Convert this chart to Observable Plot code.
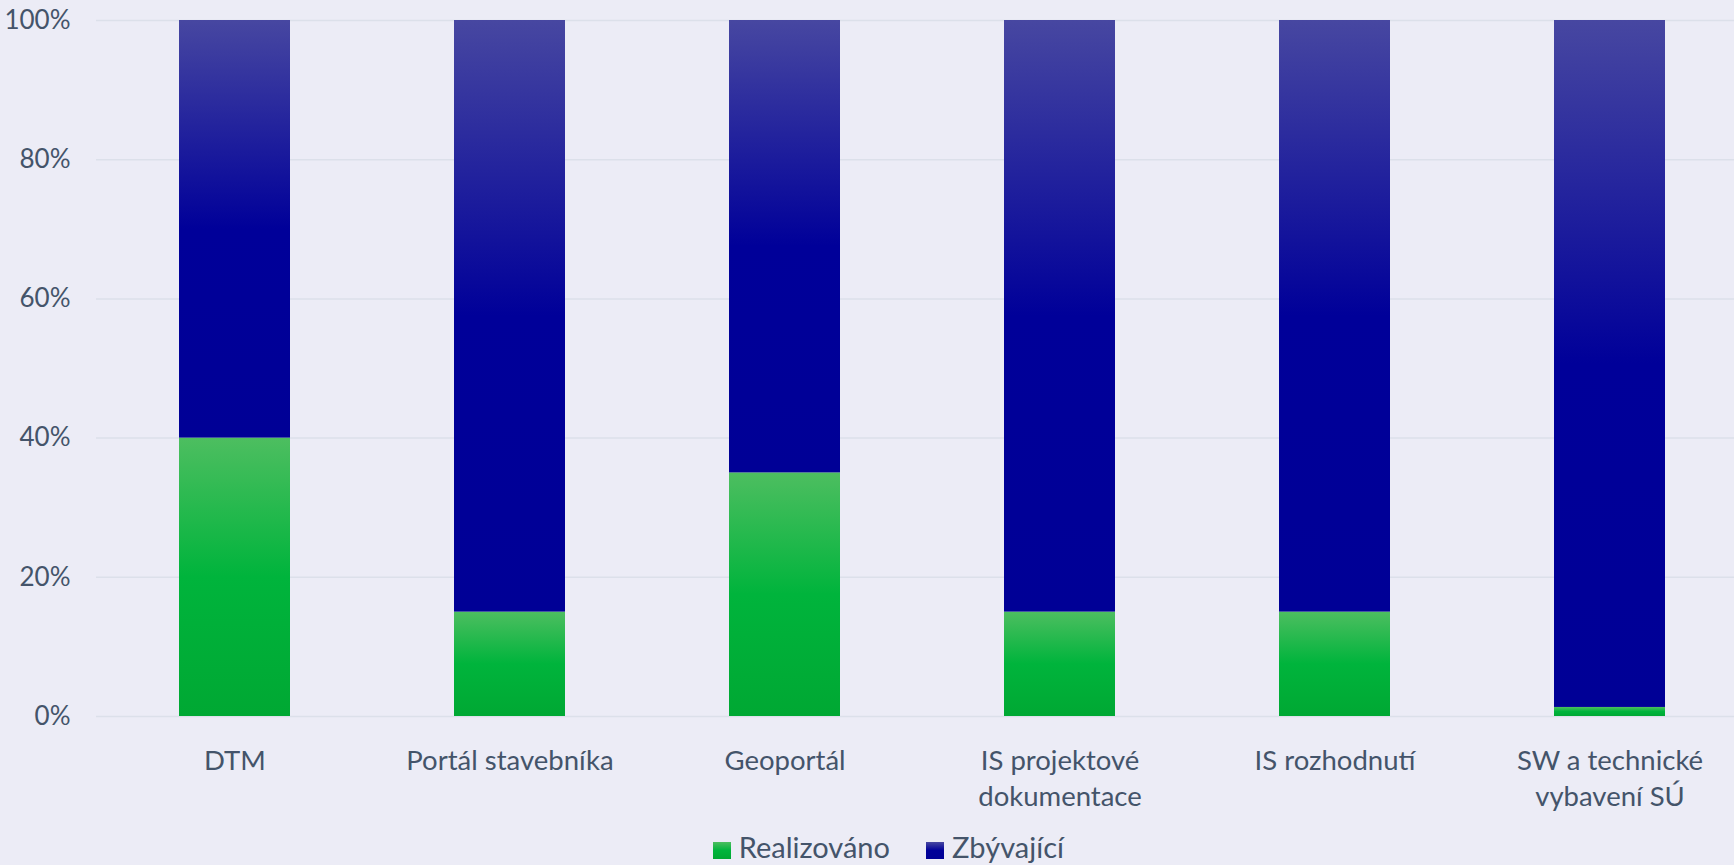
<!DOCTYPE html>
<html>
<head>
<meta charset="utf-8">
<script src="https://cdn.jsdelivr.net/npm/d3@7"></script>
<script src="https://cdn.jsdelivr.net/npm/@observablehq/plot@0.6"></script>
<style>
  html, body { margin: 0; padding: 0; }
  body { width: 1734px; height: 865px; background: #ECECF6; position: relative; overflow: hidden; font-family: Lato, "Noto Sans", sans-serif; }
  #chart { position: absolute; left: 0; top: 0; }
  #legend { position: absolute; left: 0; top: 832px; width: 1734px; height: 33px; font-size: 29px; color: #44546A; line-height: 30px; }
  .item { position: absolute; top: 0; display: flex; align-items: flex-start; white-space: nowrap; }
  .sw { width: 18px; height: 16.5px; margin-top: 10px; margin-right: 8px; }
</style>
</head>
<body>
<div id="chart"></div>
<div id="legend"></div>
<script>
const categories = ["DTM", "Portál stavebníka", "Geoportál", "IS projektové\ndokumentace", "IS rozhodnutí", "SW a technické\nvybavení SÚ"];
const seriesNames = ["Realizováno", "Zbývající"];
const realizovano = [40, 15, 35, 15, 15, 1.3];
const zbyvajici = [60, 85, 65, 85, 85, 98.7];
const yTicks = [0, 20, 40, 60, 80, 100];

const data = [];
categories.forEach((c, i) => {
  data.push({cat: c, series: seriesNames[0], value: realizovano[i]});
  data.push({cat: c, series: seriesNames[1], value: zbyvajici[i]});
});

const gradDefs = [
  {id: "gGreen", stops: [[0, "#4DBE60"], [0.5, "#00B43C"], [1, "#00A833"]]},
  {id: "gBlue", stops: [[0, "#4747A1"], [0.5, "#000099"], [1, "#000096"]]}
];

function defsMark() {
  const ns = "http://www.w3.org/2000/svg";
  const defs = document.createElementNS(ns, "defs");
  for (const g of gradDefs) {
    const lg = document.createElementNS(ns, "linearGradient");
    lg.setAttribute("id", g.id);
    lg.setAttribute("x1", "0"); lg.setAttribute("y1", "0");
    lg.setAttribute("x2", "0"); lg.setAttribute("y2", "1");
    for (const [o, c] of g.stops) {
      const s = document.createElementNS(ns, "stop");
      s.setAttribute("offset", o);
      s.setAttribute("stop-color", c);
      lg.appendChild(s);
    }
    defs.appendChild(lg);
  }
  return defs;
}

const chart = Plot.plot({
  width: 1734,
  height: 828,
  marginTop: 20,
  marginBottom: 112,
  marginLeft: 96,
  marginRight: 0,
  style: {background: "transparent", fontFamily: "Lato, 'Noto Sans', sans-serif", fontSize: "26px", color: "#44546A"},
  x: {domain: categories, paddingInner: 0.597, paddingOuter: 0.271, align: 0.548, label: null},
  y: {domain: [0, 100], label: null},
  color: {domain: seriesNames, range: ["url(#gGreen)", "url(#gBlue)"]},
  marks: [
    defsMark,
    Plot.gridY(yTicks, {stroke: "#DCE0EA", strokeOpacity: 1, strokeWidth: 1.5}),
    Plot.axisY(yTicks, {tickSize: 0, tickPadding: 26, tickFormat: d => d + "%", fill: "#44546A", fontSize: 26, label: null}),
    Plot.axisX({tickSize: 0, tickPadding: 28, fill: "#44546A", fontSize: 27.5, lineHeight: 1.3, label: null}),
    Plot.barY(data, {x: "cat", y: "value", fill: "series"})
  ]
});
document.getElementById("chart").appendChild(chart);

const legend = document.getElementById("legend");
const legendLeft = [712.7, 926];
seriesNames.forEach((s, i) => {
  const item = document.createElement("div");
  item.className = "item";
  item.style.left = legendLeft[i] + "px";
  const sw = document.createElement("div");
  sw.className = "sw";
  const st = gradDefs[i].stops;
  sw.style.background = `linear-gradient(to bottom, ${st[0][1]}, ${st[1][1]} 50%, ${st[2][1]})`;
  const t = document.createElement("span");
  t.textContent = s;
  item.appendChild(sw);
  item.appendChild(t);
  legend.appendChild(item);
});
</script>
</body>
</html>
